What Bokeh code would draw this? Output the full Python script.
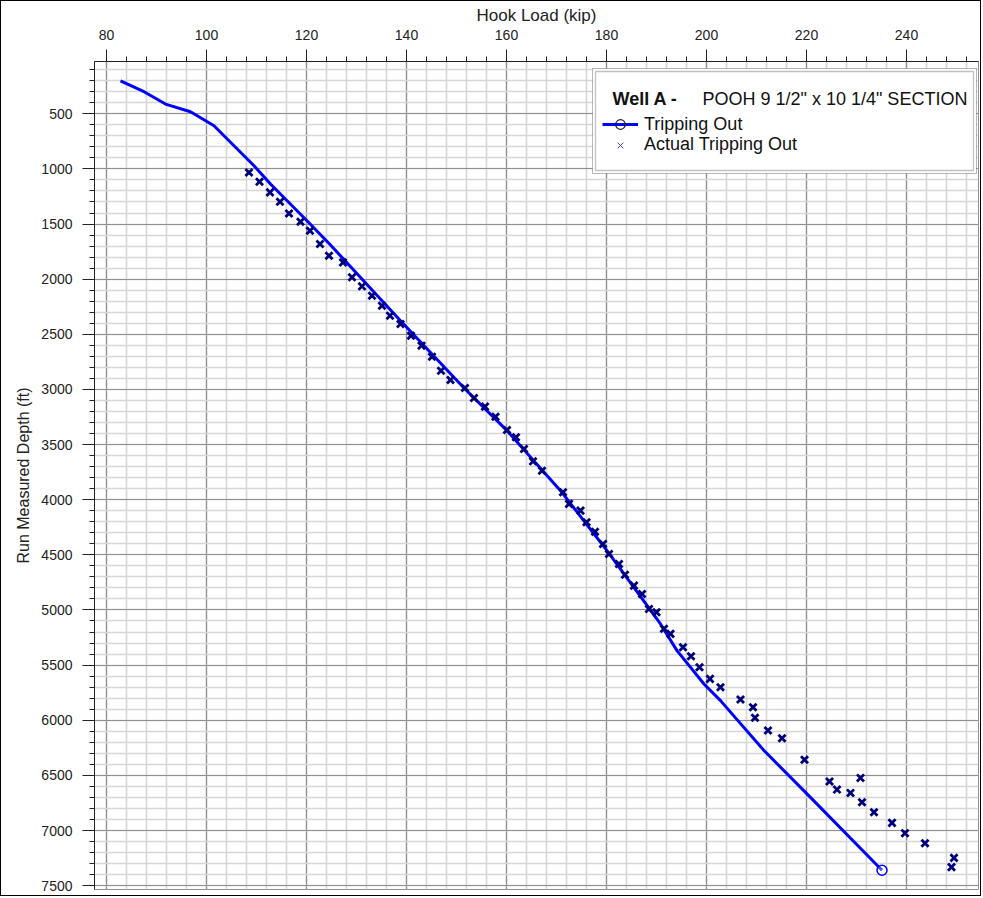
from bokeh.plotting import figure
from bokeh.models import (Range1d, SingleIntervalTicker, Legend, LegendItem,
                          BoxAnnotation, Label, ColumnDataSource)
from bokeh.embed import file_html
from bokeh.resources import INLINE

# ---- data ----
line_hook = [82.8, 87.5, 91.8, 96.8, 101.5, 105.5, 109.5, 112.8, 120.1, 124.8,
             138.8, 151.5, 160.1, 170.8, 180.1, 190.8, 194.1, 199.5, 202.8,
             211.5, 220.1, 235.1]
line_depth = [201, 300, 412, 482, 609, 790, 971, 1137, 1470, 1690,
              2377, 2987, 3374, 3918, 4462, 5127, 5369, 5671, 5822,
              6275, 6668, 7360]

actual_hook = [108.5, 110.6, 112.7, 114.7, 116.5, 118.8, 120.7, 122.7, 124.5, 127.3,
               129.1, 131.1, 133.1, 135.1, 136.7, 138.8, 140.9, 143.0, 145.1, 146.9,
               148.8, 151.7, 153.5, 155.7, 157.8, 160.1, 161.9, 163.5, 165.3, 167.1,
               171.3, 172.5, 174.8, 176.0, 177.7, 179.3, 180.5, 182.5, 183.7, 185.5,
               187.1, 188.5, 190.0, 191.5, 192.8, 195.3, 196.9, 198.6, 200.7, 202.8,
               206.8, 209.3, 209.7, 212.3, 215.1, 219.6, 224.6, 226.1, 230.8, 228.8,
               231.1, 233.5, 237.1, 239.7, 243.7, 249.5, 249.0]
actual_depth = [1032, 1117, 1213, 1298, 1404, 1479, 1561, 1681, 1787, 1848,
                1983, 2065, 2150, 2241, 2331, 2407, 2513, 2603, 2703, 2830,
                2914, 2987, 3077, 3156, 3247, 3368, 3434, 3540, 3652, 3737,
                3933, 4038, 4099, 4205, 4290, 4401, 4492, 4583, 4680, 4779,
                4855, 4991, 5020, 5171, 5217, 5338, 5420, 5519, 5625, 5701,
                5812, 5882, 5978, 6093, 6163, 6359, 6556, 6629, 6523, 6659,
                6744, 6834, 6931, 7024, 7115, 7248, 7332]

x_label = "Hook Load (kip)"
y_label = "Run Measured Depth (ft)"
legend_title_bold = "Well A -"
legend_title_rest = 'POOH 9 1/2" x 10 1/4" SECTION'
series_line_name = "Tripping Out"
series_pts_name = "Actual Tripping Out"

FONT = "Liberation Sans"
NAN = float("nan")

p = figure(width=981, height=896, output_backend="svg", toolbar_location=None,
           x_range=Range1d(77.6, 254.4), y_range=Range1d(7535, 26),
           x_axis_location="above",
           min_border_left=93, min_border_right=4, min_border_top=60, min_border_bottom=8,
           background_fill_color="white", border_fill_color="white")
p.outline_line_color = "#8f8f8f"
p.styles = {"border": "1px solid #000000"}

p.xaxis.ticker = SingleIntervalTicker(interval=20, num_minor_ticks=5)
p.yaxis.ticker = SingleIntervalTicker(interval=500, num_minor_ticks=5)
for ax in (p.xaxis[0], p.yaxis[0]):
    ax.axis_line_color = "#222222"
    ax.major_tick_line_color = "#222222"
    ax.minor_tick_line_color = "#222222"
    ax.major_tick_out = 12
    ax.major_tick_in = 0
    ax.minor_tick_out = 5
    ax.minor_tick_in = 0
    ax.major_label_text_font = FONT
    ax.major_label_text_font_size = "14px"
    ax.major_label_text_color = "#222222"
    ax.axis_label_text_font = FONT
    ax.axis_label_text_font_style = "normal"
    ax.axis_label_text_color = "#222222"
    ax.major_label_standoff = 10
p.xaxis.axis_label = x_label
p.yaxis.axis_label = y_label
p.xaxis.axis_label_text_font_size = "17px"
p.yaxis.axis_label_text_font_size = "16px"
p.xaxis.axis_label_standoff = 2
p.yaxis.axis_label_standoff = 6
p.yaxis.formatter.use_scientific = False

for g in (p.xgrid[0], p.ygrid[0]):
    g.grid_line_color = "#8f8f8f"
    g.grid_line_width = 1.2
    g.minor_grid_line_color = "#d6d6d6"
    g.minor_grid_line_width = 1.6
    g.level = "underlay"

line_src = ColumnDataSource(dict(x=line_hook, y=line_depth))
r_line = p.line("x", "y", source=line_src, line_color="#0000ff", line_width=3)
r_end = p.scatter(x=line_hook[-1:], y=line_depth[-1:], marker="circle", size=10,
                  fill_color="white", fill_alpha=0.3, line_color="#0000ff", line_width=1.5)
r_pts = p.scatter(actual_hook, actual_depth, marker="x", size=10,
                  line_color="#00007a", line_width=2.8)

# legend-only glyph samples (not drawn in the plot area)
r_leg_circle = p.scatter(x=[NAN], y=[NAN], marker="circle", size=9, fill_color="white",
                         fill_alpha=0, line_color="#222222", line_width=1.2)
r_leg_x = p.scatter(x=[NAN], y=[NAN], marker="x", size=8, line_color="#4848a8", line_width=1)

# legend box (double frame); canvas coords are offset by the 1px css border
p.add_layout(BoxAnnotation(left=590, right=974, top=66, bottom=171,
                           left_units="canvas", right_units="canvas",
                           top_units="canvas", bottom_units="canvas",
                           fill_color="white", fill_alpha=1, line_color="#111111", line_width=1))
p.add_layout(BoxAnnotation(left=593, right=971, top=69, bottom=168,
                           left_units="canvas", right_units="canvas",
                           top_units="canvas", bottom_units="canvas",
                           fill_alpha=0, line_color="#333333", line_width=1.3))

common = dict(padding=0, spacing=0, glyph_width=36, label_height=18, label_standoff=6,
              label_text_font=FONT, label_text_font_size="18px", label_text_line_height=1.0,
              label_text_color="#111111",
              background_fill_alpha=0, border_line_alpha=0, margin=0)
legend1 = Legend(items=[LegendItem(label=series_line_name, renderers=[r_line, r_leg_circle])],
                 location=(508, 753), glyph_height=24, **common)
legend2 = Legend(items=[LegendItem(label=series_pts_name, renderers=[r_leg_x])],
                 location=(508, 734), glyph_height=20, **common)
p.add_layout(legend1, "center")
p.add_layout(legend2, "center")

p.add_layout(Label(x=610, y=96, x_units="canvas", y_units="canvas", text=legend_title_bold,
                   text_font=FONT, text_font_size="18px", text_font_style="bold",
                   text_baseline="middle", text_color="#111111"))
p.add_layout(Label(x=700, y=96, x_units="canvas", y_units="canvas", text=legend_title_rest,
                   text_font=FONT, text_font_size="18px",
                   text_baseline="middle", text_color="#111111"))

open("out.html", "w").write(file_html(p, INLINE))
